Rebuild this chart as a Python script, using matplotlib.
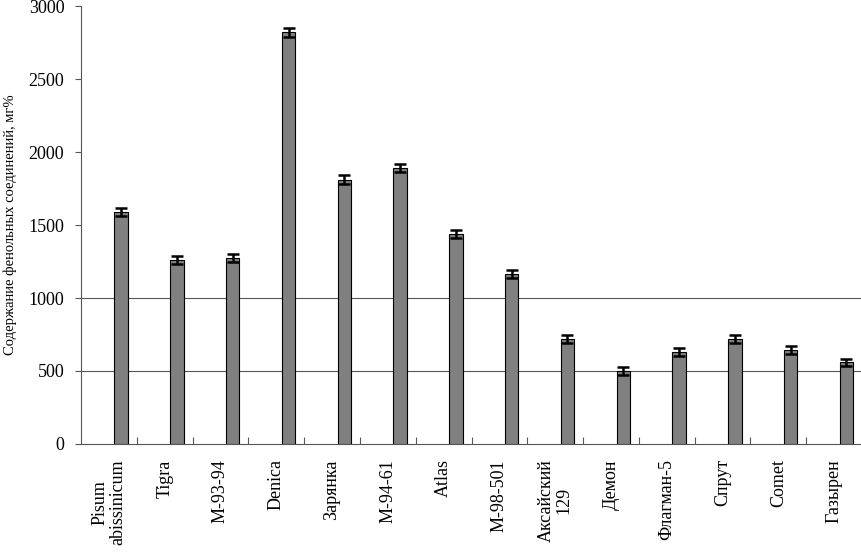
import matplotlib
matplotlib.use("Agg")
import matplotlib.pyplot as plt
import numpy as np

categories = ["Pisum\nabissinicum", "Tigra", "М-93-94", "Denica", "Зарянка", "М-94-61",
              "Atlas", "М-98-501", "Аксайский\n129", "Демон", "Флагман-5", "Спрут",
              "Comet", "Газырен"]
values = [1590, 1260, 1275, 2820, 1810, 1890, 1440, 1165, 720, 500, 630, 720, 645, 560]
errors = [30, 28, 28, 30, 30, 30, 28, 28, 28, 25, 25, 28, 28, 25]
yticks = [0, 500, 1000, 1500, 2000, 2500, 3000]
ylabel = "Содержание фенольных соединений, мг%"

plt.rcParams['font.family'] = ['Liberation Serif', 'DejaVu Serif']

fig = plt.figure(figsize=(8.62, 5.52), dpi=100)
ax = fig.add_axes([0.094, 0.1957, 0.906, 0.7933])

x = np.arange(len(categories))
ax.bar(x + 0.22, values, width=0.24, color="#808080", edgecolor="black", linewidth=0.8, zorder=3)
ax.errorbar(x + 0.22, values, yerr=errors, fmt="none", ecolor="black", elinewidth=1.8,
            capsize=4, capthick=1.8, zorder=4)

for g in [500, 1000]:
    ax.axhline(g, color="#555555", linewidth=0.8, zorder=1)

ax.set_xlim(-0.5, len(categories) - 0.5)
ax.set_ylim(0, 3000)
ax.set_yticks(yticks)
ax.set_yticklabels([str(t) for t in yticks], fontsize=13)
ax.tick_params(axis="y", length=4, width=0.8, color="#555555", pad=8)

ax.set_xticks(x)
ax.set_xticklabels(categories, rotation=90, fontsize=13, linespacing=1.05,
                   multialignment="center")
ax.tick_params(axis="x", which="major", length=0, pad=11)
ax.set_xticks(np.arange(len(categories)) + 0.5, minor=True)
ax.tick_params(axis="x", which="minor", direction="in", length=5, width=0.8, color="#555555")

for s in ["top", "right"]:
    ax.spines[s].set_visible(False)
ax.spines["left"].set_color("#555555")
ax.spines["bottom"].set_color("#555555")
ax.spines["left"].set_linewidth(0.8)
ax.spines["bottom"].set_linewidth(0.8)

ax.set_ylabel(ylabel, fontsize=10.5, labelpad=8)

fig.savefig("out.png", dpi=100)
